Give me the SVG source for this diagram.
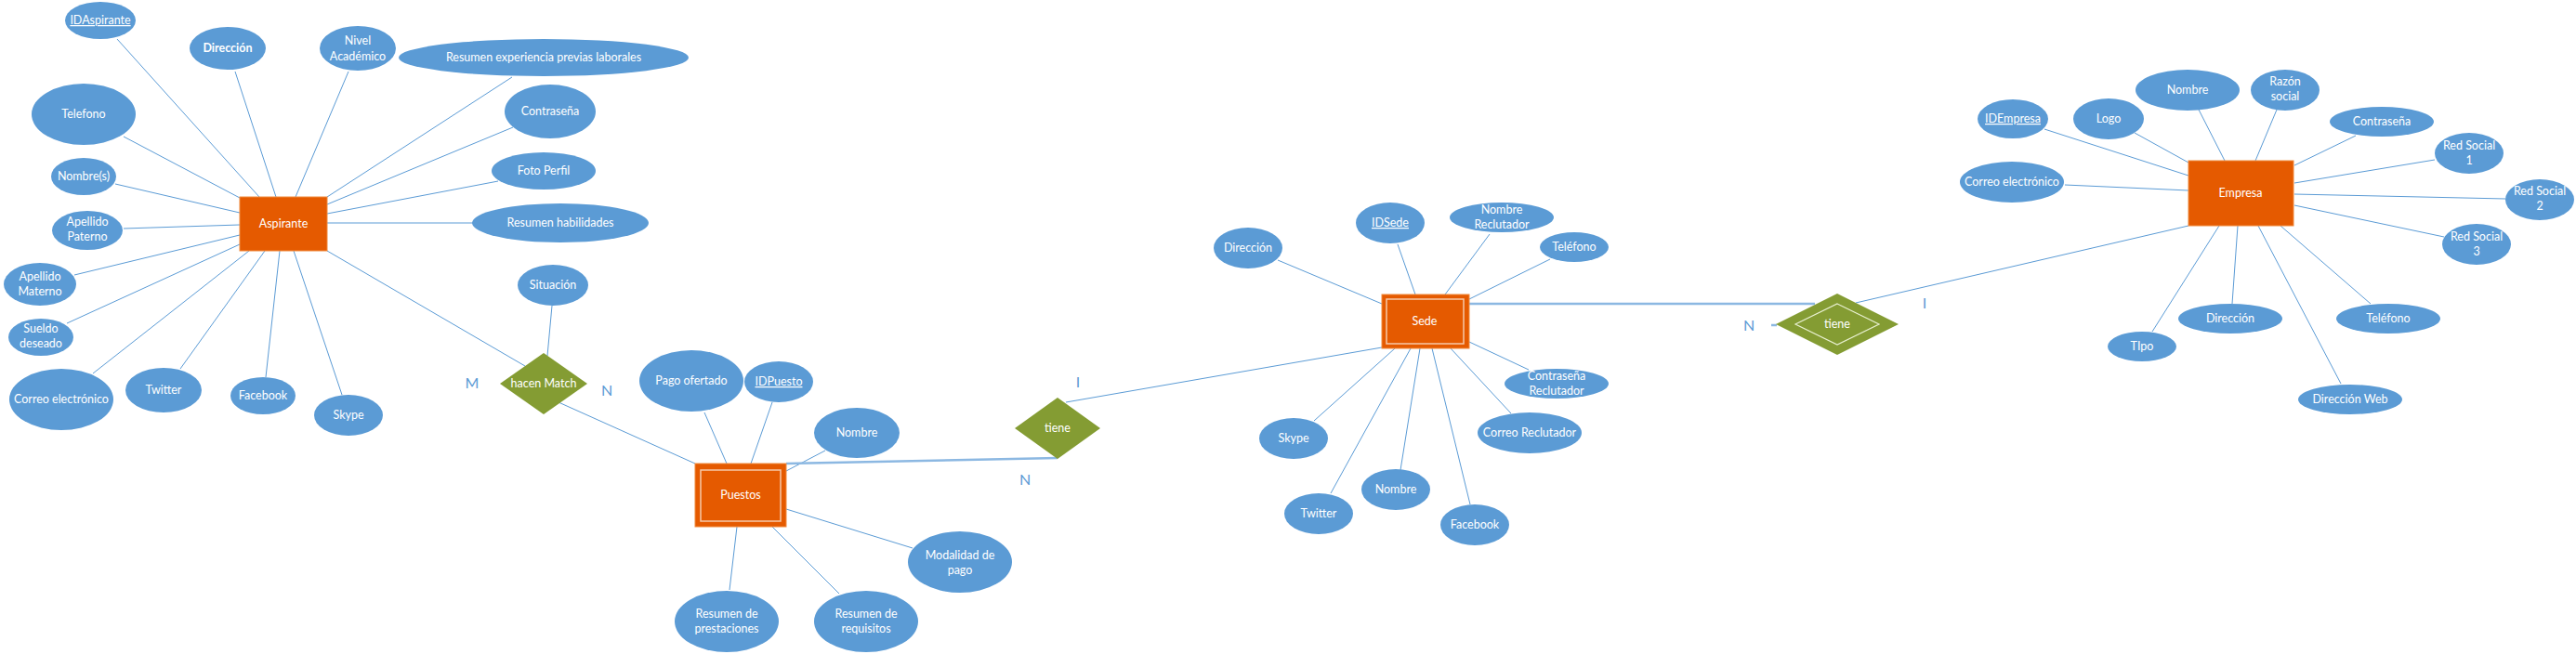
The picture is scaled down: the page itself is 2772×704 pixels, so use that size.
<svg xmlns="http://www.w3.org/2000/svg" width="2772" height="704" viewBox="0 0 2772 704">
<style>
.a{fill:#5B9BD5;}
.t{font-family:Lato,"Open Sans",sans-serif;font-size:12.5px;fill:#FFFFFF;text-anchor:middle;}
.u{text-decoration:underline;}
.b{font-weight:bold;}
.e{fill:#E55A00;stroke:#F08A3C;stroke-width:1;}
.in{fill:none;stroke:#F6C9A8;stroke-width:1.5;}
.r{fill:#849C33;}
.ri{fill:none;stroke:#E8F0D0;stroke-width:1.2;}
.c line{stroke:#5B9BD5;stroke-width:1;}
.c line.k{stroke:#8CB8E2;stroke-width:2.5;}
.l{font-family:Lato,"Open Sans",sans-serif;font-size:16px;fill:#5B9BD5;text-anchor:middle;}
</style>
<rect width="2772" height="704" fill="#FFFFFF"/>
<g id="connectors" class="c">
<line x1="126" y1="42" x2="279" y2="212"/>
<line x1="253" y1="77" x2="297" y2="212"/>
<line x1="375" y1="77" x2="318" y2="212"/>
<line x1="551" y1="83" x2="352" y2="212"/>
<line x1="552" y1="137" x2="352" y2="220"/>
<line x1="536" y1="195" x2="352" y2="230"/>
<line x1="352" y1="240" x2="509" y2="240"/>
<line x1="133" y1="147" x2="258" y2="213"/>
<line x1="124" y1="198" x2="258" y2="229"/>
<line x1="133" y1="246" x2="258" y2="242"/>
<line x1="80" y1="296" x2="258" y2="253"/>
<line x1="72" y1="348" x2="258" y2="263"/>
<line x1="100" y1="402" x2="268" y2="270"/>
<line x1="194" y1="397" x2="285" y2="270"/>
<line x1="286" y1="406" x2="301" y2="270"/>
<line x1="368" y1="425" x2="316" y2="270"/>
<line x1="352" y1="270" x2="565" y2="394"/>
<line x1="594" y1="329" x2="589" y2="383"/>
<line x1="601" y1="433" x2="748" y2="499"/>
<line x1="758" y1="444" x2="782" y2="499"/>
<line x1="831" y1="433" x2="808" y2="499"/>
<line x1="888" y1="485" x2="846" y2="507"/>
<line class="k" x1="846" y1="499" x2="1138" y2="493"/>
<line x1="846" y1="548" x2="982" y2="590"/>
<line x1="793" y1="567" x2="785" y2="635"/>
<line x1="831" y1="567" x2="903" y2="639"/>
<line x1="1147" y1="433" x2="1487" y2="374"/>
<line x1="1375" y1="280" x2="1487" y2="327"/>
<line x1="1504" y1="263" x2="1523" y2="317"/>
<line x1="1603" y1="252" x2="1555" y2="317"/>
<line x1="1668" y1="279" x2="1581" y2="322"/>
<line class="k" x1="1581" y1="327" x2="1953" y2="327"/>
<line class="k" x1="1906" y1="350" x2="1912" y2="350"/>
<line x1="1501" y1="375" x2="1414" y2="453"/>
<line x1="1518" y1="375" x2="1432" y2="531"/>
<line x1="1528" y1="375" x2="1507" y2="506"/>
<line x1="1541" y1="375" x2="1582" y2="543"/>
<line x1="1561" y1="375" x2="1626" y2="445"/>
<line x1="1581" y1="368" x2="1645" y2="398"/>
<line x1="1997" y1="326" x2="2355" y2="243"/>
<line x1="2200" y1="139" x2="2355" y2="189"/>
<line x1="2297" y1="143" x2="2355" y2="175"/>
<line x1="2366" y1="118" x2="2394" y2="173"/>
<line x1="2450" y1="118" x2="2427" y2="173"/>
<line x1="2535" y1="146" x2="2469" y2="178"/>
<line x1="2620" y1="172" x2="2469" y2="197"/>
<line x1="2696" y1="214" x2="2469" y2="209"/>
<line x1="2630" y1="255" x2="2469" y2="221"/>
<line x1="2222" y1="199" x2="2355" y2="205"/>
<line x1="2316" y1="357" x2="2388" y2="243"/>
<line x1="2402" y1="327" x2="2408" y2="243"/>
<line x1="2519" y1="413" x2="2430" y2="243"/>
<line x1="2551" y1="327" x2="2454" y2="243"/>
</g>
<g id="labels">
<text class="l" x="508" y="418">M</text>
<text class="l" x="653" y="426">N</text>
<text class="l" x="1160" y="417">I</text>
<text class="l" x="1103" y="522">N</text>
<text class="l" x="1882" y="356">N</text>
<text class="l" x="2071" y="332">I</text>
</g>
<g id="aspirante"><rect class="e" x="258" y="212" width="94" height="58"/><text class="t" x="305" y="245">Aspirante</text></g>
<g id="a-id"><ellipse class="a" cx="108" cy="22" rx="38" ry="20"/><text class="t u" x="108" y="26">IDAspirante</text></g>
<g id="a-dir"><ellipse class="a" cx="245" cy="52" rx="41" ry="23"/><text class="t b" x="245" y="56">Dirección</text></g>
<g id="a-nivel"><ellipse class="a" cx="385" cy="52" rx="41" ry="24"/><text class="t" x="385" y="48">Nivel</text><text class="t" x="385" y="65">Académico</text></g>
<g id="a-exp"><ellipse class="a" cx="585" cy="62" rx="156" ry="20"/><text class="t" x="585" y="66">Resumen experiencia previas laborales</text></g>
<g id="a-tel"><ellipse class="a" cx="90" cy="123" rx="56" ry="33"/><text class="t" x="90" y="127">Telefono</text></g>
<g id="a-pass"><ellipse class="a" cx="592" cy="120" rx="49" ry="29"/><text class="t" x="592" y="124">Contraseña</text></g>
<g id="a-nom"><ellipse class="a" cx="90" cy="190" rx="35" ry="20"/><text class="t" x="90" y="194">Nombre(s)</text></g>
<g id="a-foto"><ellipse class="a" cx="585" cy="184" rx="56" ry="20"/><text class="t" x="585" y="188">Foto Perfil</text></g>
<g id="a-hab"><ellipse class="a" cx="603" cy="240" rx="95" ry="21"/><text class="t" x="603" y="244">Resumen habilidades</text></g>
<g id="a-ap"><ellipse class="a" cx="94" cy="248" rx="38" ry="21"/><text class="t" x="94" y="243">Apellido</text><text class="t" x="94" y="259">Paterno</text></g>
<g id="a-am"><ellipse class="a" cx="43" cy="306" rx="39" ry="23"/><text class="t" x="43" y="302">Apellido</text><text class="t" x="43" y="318">Materno</text></g>
<g id="a-sueldo"><ellipse class="a" cx="44" cy="363" rx="35" ry="20"/><text class="t" x="44" y="358">Sueldo</text><text class="t" x="44" y="374">deseado</text></g>
<g id="a-correo"><ellipse class="a" cx="66" cy="430" rx="56" ry="33"/><text class="t" x="66" y="434">Correo electrónico</text></g>
<g id="a-tw"><ellipse class="a" cx="176" cy="420" rx="41" ry="24"/><text class="t" x="176" y="424">Twitter</text></g>
<g id="a-fb"><ellipse class="a" cx="283" cy="426" rx="35" ry="20"/><text class="t" x="283" y="430">Facebook</text></g>
<g id="a-sk"><ellipse class="a" cx="375" cy="447" rx="37" ry="22"/><text class="t" x="375" y="451">Skype</text></g>
<g id="situacion"><ellipse class="a" cx="595" cy="307" rx="38" ry="22"/><text class="t" x="595" y="311">Situación</text></g>
<g id="hacen-match"><polygon class="r" points="585,380 632,413 585,446 538,413"/><text class="t" x="585" y="417">hacen Match</text></g>
<g id="puestos"><rect class="e" x="748" y="499" width="98" height="68"/><rect class="in" x="754" y="506" width="86" height="55"/><text class="t" x="797" y="537">Puestos</text></g>
<g id="p-pago"><ellipse class="a" cx="744" cy="410" rx="56" ry="33"/><text class="t" x="744" y="414">Pago ofertado</text></g>
<g id="p-id"><ellipse class="a" cx="838" cy="411" rx="37" ry="22"/><text class="t u" x="838" y="415">IDPuesto</text></g>
<g id="p-nom"><ellipse class="a" cx="922" cy="466" rx="46" ry="27"/><text class="t" x="922" y="470">Nombre</text></g>
<g id="p-mod"><ellipse class="a" cx="1033" cy="605" rx="56" ry="33"/><text class="t" x="1033" y="602">Modalidad de</text><text class="t" x="1033" y="618">pago</text></g>
<g id="p-prest"><ellipse class="a" cx="782" cy="669" rx="56" ry="33"/><text class="t" x="782" y="665">Resumen de</text><text class="t" x="782" y="681">prestaciones</text></g>
<g id="p-req"><ellipse class="a" cx="932" cy="669" rx="56" ry="33"/><text class="t" x="932" y="665">Resumen de</text><text class="t" x="932" y="681">requisitos</text></g>
<g id="tiene1"><polygon class="r" points="1138,428 1184,461 1138,494 1092,461"/><text class="t" x="1138" y="465">tiene</text></g>
<g id="sede"><rect class="e" x="1487" y="317" width="94" height="58"/><rect class="in" x="1492" y="322" width="83" height="48"/><text class="t" x="1533" y="350">Sede</text></g>
<g id="s-dir"><ellipse class="a" cx="1343" cy="267" rx="37" ry="22"/><text class="t" x="1343" y="271">Dirección</text></g>
<g id="s-id"><ellipse class="a" cx="1496" cy="240" rx="37" ry="22"/><text class="t u" x="1496" y="244">IDSede</text></g>
<g id="s-nomrec"><ellipse class="a" cx="1616" cy="234" rx="56" ry="16"/><text class="t" x="1616" y="230">Nombre</text><text class="t" x="1616" y="246">Reclutador</text></g>
<g id="s-tel"><ellipse class="a" cx="1694" cy="266" rx="37" ry="16"/><text class="t" x="1694" y="270">Teléfono</text></g>
<g id="s-pass"><ellipse class="a" cx="1675" cy="413" rx="56" ry="16"/><text class="t" x="1675" y="409">Contraseña</text><text class="t" x="1675" y="425">Reclutador</text></g>
<g id="s-correo"><ellipse class="a" cx="1646" cy="466" rx="56" ry="22"/><text class="t" x="1646" y="470">Correo Reclutador</text></g>
<g id="s-sk"><ellipse class="a" cx="1392" cy="472" rx="37" ry="22"/><text class="t" x="1392" y="476">Skype</text></g>
<g id="s-tw"><ellipse class="a" cx="1419" cy="553" rx="37" ry="22"/><text class="t" x="1419" y="557">Twitter</text></g>
<g id="s-nom"><ellipse class="a" cx="1502" cy="527" rx="37" ry="22"/><text class="t" x="1502" y="531">Nombre</text></g>
<g id="s-fb"><ellipse class="a" cx="1587" cy="565" rx="37" ry="22"/><text class="t" x="1587" y="569">Facebook</text></g>
<g id="tiene2"><polygon class="r" points="1977,316 2043,349 1977,382 1911,349"/><polygon class="ri" points="1977,327 2022,349 1977,371 1932,349"/><text class="t" x="1977" y="353">tiene</text></g>
<g id="empresa"><rect class="e" x="2355" y="173" width="113" height="70"/><text class="t" x="2411" y="212">Empresa</text></g>
<g id="e-id"><ellipse class="a" cx="2166" cy="128" rx="38" ry="21"/><text class="t u" x="2166" y="132">IDEmpresa</text></g>
<g id="e-logo"><ellipse class="a" cx="2269" cy="128" rx="38" ry="22"/><text class="t" x="2269" y="132">Logo</text></g>
<g id="e-nom"><ellipse class="a" cx="2354" cy="97" rx="56" ry="22"/><text class="t" x="2354" y="101">Nombre</text></g>
<g id="e-razon"><ellipse class="a" cx="2459" cy="97" rx="37" ry="22"/><text class="t" x="2459" y="92">Razón</text><text class="t" x="2459" y="108">social</text></g>
<g id="e-pass"><ellipse class="a" cx="2563" cy="131" rx="56" ry="16"/><text class="t" x="2563" y="135">Contraseña</text></g>
<g id="e-rs1"><ellipse class="a" cx="2657" cy="165" rx="37" ry="22"/><text class="t" x="2657" y="161">Red Social</text><text class="t" x="2657" y="177">1</text></g>
<g id="e-rs2"><ellipse class="a" cx="2733" cy="215" rx="37" ry="22"/><text class="t" x="2733" y="210">Red Social</text><text class="t" x="2733" y="226">2</text></g>
<g id="e-rs3"><ellipse class="a" cx="2665" cy="263" rx="37" ry="22"/><text class="t" x="2665" y="259">Red Social</text><text class="t" x="2665" y="275">3</text></g>
<g id="e-correo"><ellipse class="a" cx="2165" cy="196" rx="56" ry="22"/><text class="t" x="2165" y="200">Correo electrónico</text></g>
<g id="e-tipo"><ellipse class="a" cx="2305" cy="373" rx="37" ry="16"/><text class="t" x="2305" y="377">TIpo</text></g>
<g id="e-dir"><ellipse class="a" cx="2400" cy="343" rx="56" ry="16"/><text class="t" x="2400" y="347">Dirección</text></g>
<g id="e-tel"><ellipse class="a" cx="2570" cy="343" rx="56" ry="16"/><text class="t" x="2570" y="347">Teléfono</text></g>
<g id="e-web"><ellipse class="a" cx="2529" cy="430" rx="56" ry="16"/><text class="t" x="2529" y="434">Dirección Web</text></g>
</svg>
